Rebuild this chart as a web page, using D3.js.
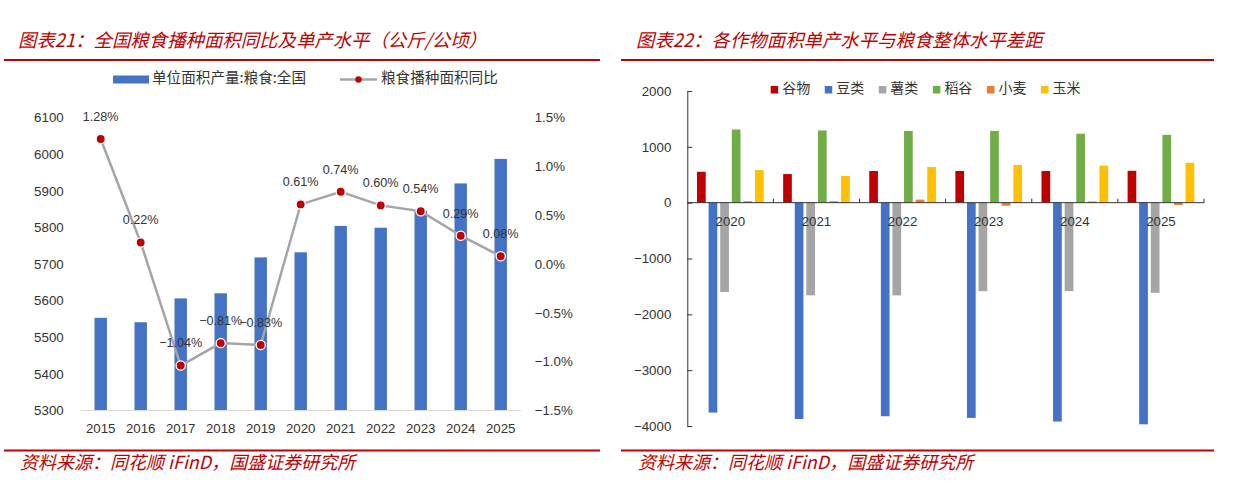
<!DOCTYPE html>
<html>
<head>
<meta charset="utf-8">
<script src="https://cdn.jsdelivr.net/npm/d3@7"></script>
<style>
  html, body { margin: 0; padding: 0; background: #fff; }
  svg { display: block; }
</style>
</head>
<body>
<svg id="chart" width="1233" height="484"></svg>
<script>
// ---------- Data: left chart ----------
const years = ["2015","2016","2017","2018","2019","2020","2021","2022","2023","2024","2025"];
const yieldPerArea = [5553, 5541, 5606, 5620, 5718, 5732, 5804, 5799, 5845, 5920, 5987];
const sownAreaYoY = [1.28, 0.22, -1.04, -0.81, -0.83, 0.61, 0.74, 0.60, 0.54, 0.29, 0.08];
const leftTicks = [5300, 5400, 5500, 5600, 5700, 5800, 5900, 6000, 6100];
const rightTicks = [-1.5, -1.0, -0.5, 0.0, 0.5, 1.0, 1.5];
const leftSeriesNames = ["单位面积产量:粮食:全国", "粮食播种面积同比"];

// ---------- Data: right chart ----------
const cropYears = ["2020","2021","2022","2023","2024","2025"];
const cropNames = ["谷物","豆类","薯类","稻谷","小麦","玉米"];
const cereal  = [553, 512, 567, 567, 567, 571];
const legumes = [-3760, -3875, -3825, -3855, -3920, -3970];
const tubers  = [-1600, -1660, -1660, -1585, -1585, -1615];
const rice    = [1310, 1293, 1285, 1285, 1235, 1214];
const wheat   = [25, 25, 55, -55, 20, -40];
const corn    = [584, 477, 639, 675, 663, 714];
const cropTicks = [-4000, -3000, -2000, -1000, 0, 1000, 2000];
const cropColors = ["#C00000", "#4472C4", "#A5A5A5", "#70AD47", "#ED7D31", "#FFC000"];

const titleLeft = "图表21：全国粮食播种面积同比及单产水平（公斤/公顷）";
const titleRight = "图表22：各作物面积单产水平与粮食整体水平差距";
const sourceText = "资料来源：同花顺 iFinD，国盛证券研究所";

const svg = d3.select("#chart");
const red = "#C00000";

// ---------- Headers / footers ----------
function frame(x0, x1, tx, title) {
  svg.append("text").attr("x", tx).attr("y", 42).attr("dominant-baseline", "middle")
    .attr("font-family", "Noto Sans CJK SC, sans-serif").attr("font-style", "italic")
    .attr("font-size", 18.4).attr("fill", red).text(title);
  svg.append("line").attr("x1", x0).attr("x2", x1).attr("y1", 60).attr("y2", 60)
    .attr("stroke", red).attr("stroke-width", 2);
  svg.append("line").attr("x1", x0).attr("x2", x1).attr("y1", 450.5).attr("y2", 450.5)
    .attr("stroke", red).attr("stroke-width", 2);
  svg.append("text").attr("x", tx + 2).attr("y", 464).attr("dominant-baseline", "middle")
    .attr("font-family", "Noto Sans CJK SC, sans-serif").attr("font-style", "italic")
    .attr("font-size", 18).attr("fill", red).text(sourceText);
}
frame(4, 600, 18, titleLeft);
frame(621, 1214, 636, titleRight);

// ---------- Left chart ----------
const L = { x0: 80.7, x1: 520.7, yTop: 117.5, yBot: 410.5 };
const xL = d3.scaleBand().domain(years).range([L.x0, L.x1]).paddingInner(0.69).paddingOuter(0.345);
const yL = d3.scaleLinear().domain([5300, 6100]).range([L.yBot, L.yTop]);
const yR = d3.scaleLinear().domain([-1.5, 1.5]).range([L.yBot, L.yTop]);

const gL = svg.append("g");
gL.selectAll("rect.bar").data(years).join("rect")
  .attr("class", "bar")
  .attr("x", d => xL(d)).attr("width", xL.bandwidth())
  .attr("y", (d, i) => yL(yieldPerArea[i]))
  .attr("height", (d, i) => yL(5300) - yL(yieldPerArea[i]))
  .attr("fill", "#4472C4");

// baseline
gL.append("line").attr("x1", L.x0).attr("x2", L.x1).attr("y1", L.yBot).attr("y2", L.yBot)
  .attr("stroke", "#D9D9D9").attr("stroke-width", 1.2);

// left axis
const axL = gL.append("g").attr("transform", `translate(${L.x0 - 17},0)`)
  .call(d3.axisLeft(yL).tickValues(leftTicks).tickSize(0).tickPadding(0).tickFormat(d3.format("d")));
axL.select(".domain").remove();
axL.selectAll("text").attr("font-size", 13.3).attr("fill", "#333")
  .attr("font-family", "Liberation Sans, sans-serif");

// right axis
const axR = gL.append("g").attr("transform", `translate(${L.x1 + 14},0)`)
  .call(d3.axisRight(yR).tickValues(rightTicks).tickSize(0).tickPadding(0).tickFormat(d => d3.format(".1f")(d) + "%"));
axR.select(".domain").remove();
axR.selectAll("text").attr("font-size", 13.3).attr("fill", "#333")
  .attr("font-family", "Liberation Sans, sans-serif");

// bottom axis
const axB = gL.append("g").attr("transform", `translate(0,${L.yBot})`)
  .call(d3.axisBottom(xL).tickSize(0).tickPadding(13));
axB.select(".domain").remove();
axB.selectAll("text").attr("font-size", 13.3).attr("fill", "#333")
  .attr("font-family", "Liberation Sans, sans-serif");

// line
const cx = d => xL(d) + xL.bandwidth() / 2;
const lineGen = d3.line().x((d, i) => cx(years[i])).y(d => yR(d));
gL.append("path").datum(sownAreaYoY).attr("d", lineGen)
  .attr("fill", "none").attr("stroke", "#A5A5A5").attr("stroke-width", 2.5);
gL.selectAll("circle.pt").data(sownAreaYoY).join("circle")
  .attr("class", "pt").attr("cx", (d, i) => cx(years[i])).attr("cy", d => yR(d))
  .attr("r", 4.6).attr("fill", red).attr("stroke", "#fff").attr("stroke-width", 1.3);
gL.selectAll("text.lbl").data(sownAreaYoY).join("text")
  .attr("class", "lbl").attr("x", (d, i) => cx(years[i])).attr("y", d => yR(d) - 21.5)
  .attr("text-anchor", "middle").attr("dominant-baseline", "middle")
  .attr("font-family", "Liberation Sans, sans-serif").attr("font-size", 12.6).attr("fill", "#333")
  .text(d => d3.format(".2f")(d) + "%");

// left legend
const lg = svg.append("g");
lg.append("rect").attr("x", 113).attr("y", 75.5).attr("width", 36).attr("height", 8).attr("fill", "#4472C4");
lg.append("text").attr("x", 152).attr("y", 79.5).attr("dominant-baseline", "middle")
  .attr("font-family", "Noto Sans CJK SC, sans-serif").attr("font-size", 14.6).attr("fill", "#333")
  .text(leftSeriesNames[0]);
lg.append("line").attr("x1", 340).attr("x2", 377).attr("y1", 79.5).attr("y2", 79.5)
  .attr("stroke", "#A5A5A5").attr("stroke-width", 2.5);
lg.append("circle").attr("cx", 358.5).attr("cy", 79.5).attr("r", 3.2).attr("fill", red);
lg.append("text").attr("x", 381).attr("y", 79.5).attr("dominant-baseline", "middle")
  .attr("font-family", "Noto Sans CJK SC, sans-serif").attr("font-size", 14.6).attr("fill", "#333")
  .text(leftSeriesNames[1]);

// ---------- Right chart ----------
const R = { x0: 687.3, x1: 1204, yTop: 91, yBot: 426 };
const series = [cereal, legumes, tubers, rice, wheat, corn];
const x0 = d3.scaleBand().domain(cropYears).range([R.x0, R.x1]);
const gw = x0.bandwidth() * 0.808;
const x1 = d3.scaleBand().domain(cropNames)
  .range([x0.bandwidth() / 2 - gw / 2, x0.bandwidth() / 2 + gw / 2])
  .paddingInner(0.25).paddingOuter(0.125);
const yC = d3.scaleLinear().domain([-4000, 2000]).range([R.yBot, R.yTop]);

const gR = svg.append("g");
cropYears.forEach((yr, yi) => {
  const g = gR.append("g").attr("transform", `translate(${x0(yr)},0)`);
  g.selectAll("rect").data(cropNames).join("rect")
    .attr("x", n => x1(n)).attr("width", x1.bandwidth())
    .attr("y", (n, k) => yC(Math.max(0, series[k][yi])))
    .attr("height", (n, k) => Math.abs(yC(series[k][yi]) - yC(0)))
    .attr("fill", (n, k) => cropColors[k]);
});

// y axis
const axC = gR.append("g").attr("transform", `translate(${R.x0},0)`)
  .call(d3.axisLeft(yC).tickValues(cropTicks).tickSize(0).tickPadding(16).tickFormat(d3.format("d")));
axC.select(".domain").attr("stroke", "#333");
axC.selectAll("text").attr("font-size", 13.3).attr("fill", "#333")
  .attr("font-family", "Liberation Sans, sans-serif");
axC.selectAll(".tick").append("line").attr("x1", 0).attr("x2", 5).attr("stroke", "#333");

// zero axis
gR.append("line").attr("x1", R.x0).attr("x2", R.x1).attr("y1", yC(0)).attr("y2", yC(0))
  .attr("stroke", "#333").attr("stroke-width", 1);
const bounds = cropYears.map(d => x0(d)).concat([R.x1]);
gR.selectAll("line.ct").data(bounds.slice(1)).join("line").attr("class", "ct")
  .attr("x1", d => d).attr("x2", d => d).attr("y1", yC(0)).attr("y2", yC(0) - 4)
  .attr("stroke", "#333");
gR.selectAll("text.cy").data(cropYears).join("text").attr("class", "cy")
  .attr("x", d => x0(d) + x0.bandwidth() / 2).attr("y", yC(0) + 19.5)
  .attr("text-anchor", "middle").attr("dominant-baseline", "middle")
  .attr("font-family", "Liberation Sans, sans-serif").attr("font-size", 13.3).attr("fill", "#333")
  .text(d => d);

// right legend
const lgx = d3.scalePoint().domain(cropNames).range([770.7, 1041]);
const lgR = svg.append("g");
lgR.selectAll("rect").data(cropNames).join("rect")
  .attr("x", d => lgx(d)).attr("y", 86).attr("width", 7.5).attr("height", 7.5)
  .attr("fill", (d, i) => cropColors[i]);
lgR.selectAll("text").data(cropNames).join("text")
  .attr("x", d => lgx(d) + 11.5).attr("y", 89.5).attr("dominant-baseline", "middle")
  .attr("font-family", "Noto Sans CJK SC, sans-serif").attr("font-size", 14).attr("fill", "#333")
  .text(d => d);
</script>
</body>
</html>
